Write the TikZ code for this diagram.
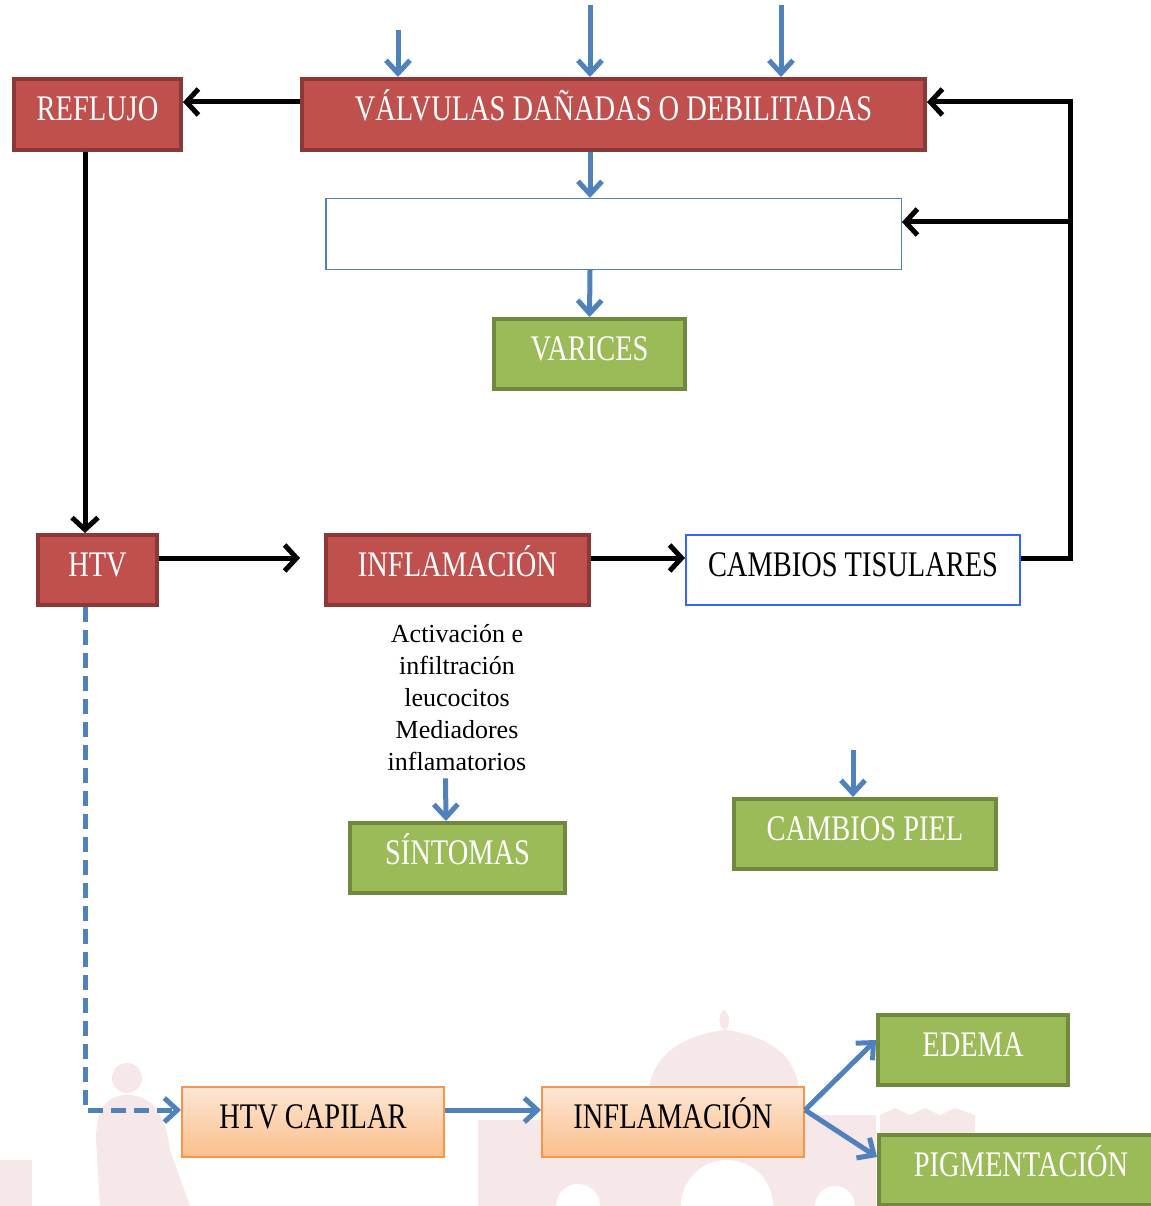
\documentclass[tikz,border=0pt]{standalone}
\usepackage{fontspec}
\setmainfont{Liberation Serif}
\newfontfamily\boxfont[FakeStretch=0.79]{Liberation Serif}
\usetikzlibrary{arrows.meta}

\definecolor{redfill}{HTML}{C0504D}
\definecolor{redline}{HTML}{8C3836}
\definecolor{greenfill}{HTML}{9BBB59}
\definecolor{greenline}{HTML}{71893F}
\definecolor{orangetop}{HTML}{FDE6D4}
\definecolor{orangebot}{HTML}{FBBF8C}
\definecolor{orangeline}{HTML}{F79646}
\definecolor{flowblue}{HTML}{4F81BD}
\definecolor{brightblue}{HTML}{3366FF}
\definecolor{faint}{HTML}{F6E7E8}

\tikzset{
  basebox/.style={inner sep=0pt, text height=24pt, text depth=12pt,
    font=\boxfont\fontsize{36}{40}\selectfont},
  redbox/.style={basebox, draw=redline, fill=redfill, line width=4pt, text=white},
  greenbox/.style={basebox, draw=greenline, fill=greenfill, line width=4pt, text=white},
  orangebox/.style={basebox, draw=orangeline, line width=2pt, text=black,
    top color=orangetop, bottom color=orangebot},
  plainbox/.style={basebox, fill=white, text=black},
  blkarrow/.style={draw=black, line width=5pt,
    -{Straight Barb[length=12pt,width=26pt,line width=5pt]}},
  bluearrow/.style={draw=flowblue, line width=5pt,
    -{Straight Barb[length=13pt,width=24pt,line width=5pt]}},
  blkline/.style={draw=black, line width=5pt},
  notetext/.style={align=center, font=\fontsize{26}{32}\selectfont, inner sep=0pt}
}

\begin{document}
\begin{tikzpicture}[x=1pt, y=-1pt]
\useasboundingbox (0,0) rectangle (1150,1206);

% faint background silhouettes
\begin{scope}
  \fill[faint] (0,1160) rectangle (32,1206);
  \fill[faint] (127,1078) circle (15);
  \fill[faint] (100,1206) -- (96,1140) .. controls (96,1105) and (110,1095) .. (127,1095)
        .. controls (150,1095) and (165,1110) .. (170,1150) -- (190,1206) -- cycle;
  \fill[faint] (648,1100) .. controls (648,1050) and (690,1035) .. (724,1030)
        .. controls (716,1022) and (720,1012) .. (724,1010)
        .. controls (728,1012) and (732,1022) .. (726,1030)
        .. controls (760,1035) and (800,1050) .. (800,1100) -- cycle;
  \fill[faint] (478,1158) rectangle (876,1206);
  \fill[faint] (478,1120) rectangle (541,1158);
  \fill[faint] (805,1115) rectangle (876,1158);
  \fill[faint] (880,1115) -- (895,1108) -- (910,1115) -- (925,1108) -- (940,1115)
        -- (955,1108) -- (975,1115) -- (975,1135) -- (880,1135) -- cycle;
  \fill[white] (727,1206) circle (46);
  \fill[white] (578,1206) circle (22);
  \fill[white] (835,1206) circle (20);
\end{scope}

% boxes
\node[redbox, minimum width=167pt, minimum height=71pt] (reflujo) at (97.5,114.5) {REFLUJO};
\node[redbox, minimum width=623pt, minimum height=71pt] (valv) at (613.5,114.5) {VÁLVULAS DAÑADAS O DEBILITADAS};
\node[plainbox, draw=flowblue, line width=1.5pt, minimum width=575.5pt, minimum height=70.5pt] (blank) at (613.5,234) {};
\node[greenbox, minimum width=191pt, minimum height=70pt] (varices) at (589.5,354) {VARICES};

\node[redbox, minimum width=119pt, minimum height=70pt] (htv) at (97.5,570) {HTV};
\node[redbox, minimum width=263pt, minimum height=70pt] (inflR) at (457.5,570) {INFLAMACIÓN};
\node[plainbox, draw=brightblue, line width=2pt, minimum width=334pt, minimum height=70pt] (tisular) at (853,570) {CAMBIOS TISULARES};

\node[notetext] (notes) at (457,698) {Activación e\\infiltración\\leucocitos\\Mediadores\\inflamatorios};
\node[greenbox, minimum width=215pt, minimum height=70pt] (sintomas) at (457.5,858) {SÍNTOMAS};
\node[greenbox, minimum width=262pt, minimum height=70pt] (piel) at (865,834) {CAMBIOS PIEL};

\node[orangebox, minimum width=262pt, minimum height=70pt] (capilar) at (313,1122) {HTV CAPILAR};
\node[orangebox, minimum width=262pt, minimum height=70pt] (inflO) at (673,1122) {INFLAMACIÓN};
\node[greenbox, minimum width=190pt, minimum height=70pt] (edema) at (973,1050) {EDEMA};
\node[greenbox, minimum width=284pt, minimum height=70pt] (pigment) at (1021,1170) {PIGMENTACIÓN};

% free ends and bends
\coordinate (in1) at (398,30);
\coordinate (in2) at (590,5);
\coordinate (in3) at (781,5);
\coordinate (pielin) at (853,750);
\coordinate (fbcorner) at (1070,558);
\coordinate (fbmid) at (1070,222);

% incoming causes
\draw[bluearrow] (in1) -- (in1 |- valv.north);
\draw[bluearrow] (in2) -- (in2 |- valv.north);
\draw[bluearrow] (in3) -- (in3 |- valv.north);

% main chain
\draw[blkarrow] ([yshift=12.5pt]valv.west) -- ([yshift=12.5pt]reflujo.east);
\draw[bluearrow] ([xshift=-23.5pt]valv.south) -- ([xshift=-23.5pt]blank.north);
\draw[bluearrow] ([xshift=-23.5pt]blank.south) -- (varices.north);
\draw[blkarrow] ([xshift=-12.5pt]reflujo.south) -- ([xshift=-12.5pt]htv.north);
\draw[blkarrow] ([yshift=12pt]htv.east) -- ([xshift=-24pt,yshift=12pt]inflR.west);
\draw[blkarrow] ([yshift=12pt]inflR.east) -- ([yshift=12pt]tisular.west);

% feedback loop
\draw[blkline] ([yshift=12pt]tisular.east) -- (fbcorner) -- (fbmid);
\draw[blkarrow] (fbmid) |- ([yshift=12.5pt]valv.east);
\draw[blkarrow] (fbmid) -- ([yshift=12pt]blank.east);

% effects
\draw[bluearrow] ([xshift=-11.5pt,yshift=-7pt]notes.south) -- ([xshift=-11.5pt]sintomas.north);
\draw[bluearrow] (pielin) -- (pielin |- piel.north);

% capillary branch
\draw[bluearrow, dash pattern=on 15pt off 8pt] ([xshift=-12.5pt]htv.south) |- ([yshift=12pt]capilar.west);
\draw[bluearrow] ([yshift=12pt]capilar.east) -- ([yshift=12pt]inflO.west);
\draw[bluearrow] ([yshift=12pt]inflO.east) -- ([yshift=10pt]edema.west);
\draw[bluearrow] ([yshift=12pt]inflO.east) -- ([yshift=13pt]pigment.west);
\end{tikzpicture}
\end{document}
